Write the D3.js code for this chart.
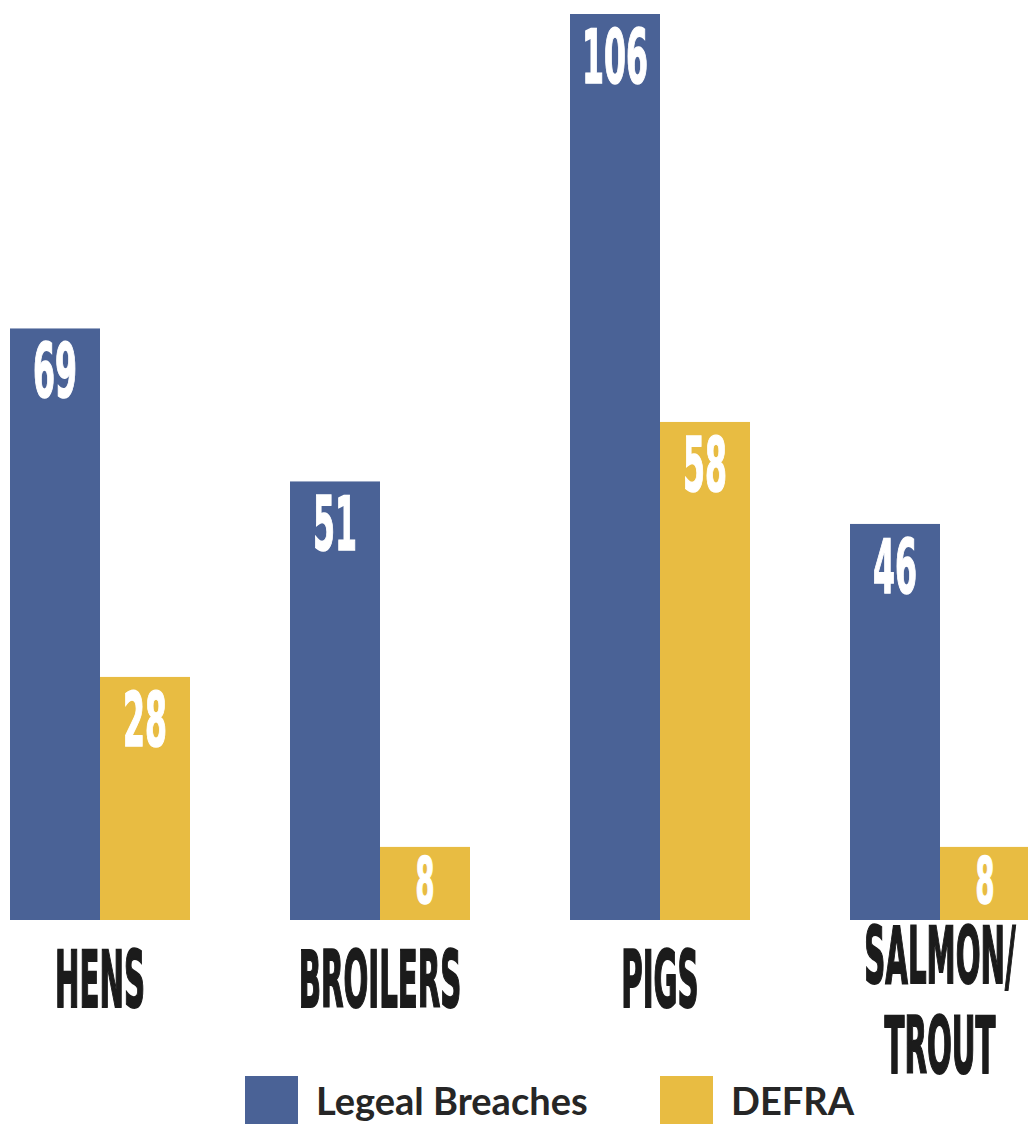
<!DOCTYPE html>
<html>
<head>
<meta charset="utf-8">
<script src="https://cdn.jsdelivr.net/npm/d3@7"></script>
<style>
  body { margin: 0; background: #fff; }
  svg { display: block; }
</style>
</head>
<body>
<script>
var w = 1028;
var h = 1124;

var categories = ["HENS", "BROILERS", "PIGS", "SALMON/TROUT"];
var series = ["Legeal Breaches", "DEFRA"];
var breaches = [69, 51, 106, 46];
var defra = [28, 8, 58, 8];
var colors = ["#4a6296", "#e8bc42"];

var condensed = "'Liberation Sans Narrow', 'DejaVu Sans Condensed', 'Liberation Sans', sans-serif";

var svg = d3.select("body").append("svg").attr("width", w).attr("height", h);

var x0 = d3.scaleBand().domain(categories).range([10, 1030]).paddingInner(100 / 280).paddingOuter(0);
var x1 = d3.scaleBand().domain(series).range([0, x0.bandwidth()]).padding(0);
var y = d3.scaleLinear().domain([-0.6, 106]).range([920, 14]);

var rows = [];
categories.forEach(function (c, i) {
  rows.push({ cat: c, s: series[0], v: breaches[i] });
  rows.push({ cat: c, s: series[1], v: defra[i] });
});

svg.selectAll("rect.bar")
  .data(rows)
  .enter()
  .append("rect")
  .attr("class", "bar")
  .attr("x", function (d) { return x0(d.cat) + x1(d.s); })
  .attr("y", function (d) { return y(d.v); })
  .attr("width", x1.bandwidth())
  .attr("height", function (d) { return 920 - y(d.v); })
  .attr("fill", function (d) { return colors[series.indexOf(d.s)]; });

// width of a sample string, used to squeeze the condensed labels
function measure(sample, size) {
  var t = svg.append("text").text(sample)
    .attr("font-family", condensed).attr("font-weight", 700)
    .attr("font-size", size);
  var wd = t.node().getComputedTextLength();
  t.remove();
  return wd;
}

// value labels
var valSize = 74;
var valSx = 44 / measure("00", valSize);

svg.selectAll("text.val")
  .data(rows)
  .enter()
  .append("text")
  .attr("class", "val")
  .text(function (d) { return d.v; })
  .attr("text-anchor", "middle")
  .attr("font-family", condensed)
  .attr("font-weight", 700)
  .attr("font-size", function (d) { return 920 - y(d.v) < 100 ? 64 : valSize; })
  .attr("fill", "#fff")
  .attr("stroke", "#fff")
  .attr("stroke-width", 1.5)
  .attr("transform", function (d) {
    var cx = x0(d.cat) + x1(d.s) + x1.bandwidth() / 2;
    var base = Math.min(y(d.v) + 69, 920 - 17);
    return "translate(" + cx + "," + base + ") scale(" + valSx + ",1)";
  });

// category labels
var catSize = 79;
var catSx = 90 / measure("HENS", catSize);

categories.forEach(function (c) {
  var lines = c.indexOf("/") > -1 ? [c.split("/")[0] + "/", c.split("/")[1]] : [c];
  var cx = x0(c) + x0.bandwidth() / 2;
  var first = lines.length > 1 ? 983 : 1007;
  lines.forEach(function (ln, j) {
    svg.append("text")
      .text(ln)
      .attr("text-anchor", "middle")
      .attr("font-family", condensed)
      .attr("font-weight", 700)
      .attr("font-size", catSize)
      .attr("fill", "#1b1b1b")
      .attr("stroke", "#1b1b1b")
      .attr("stroke-width", 2)
      .attr("transform", "translate(" + cx + "," + (first + j * 90) + ") scale(" + catSx + ",1)");
  });
});

// legend
var legX = [245, 660];
var legend = svg.selectAll("g.leg")
  .data(series)
  .enter()
  .append("g")
  .attr("class", "leg")
  .attr("transform", function (d, i) { return "translate(" + legX[i] + ",1076)"; });

legend.append("rect")
  .attr("width", 53)
  .attr("height", 60)
  .attr("fill", function (d, i) { return colors[i]; });

legend.append("text")
  .text(function (d) { return d; })
  .attr("x", 71)
  .attr("y", 39)
  .attr("font-family", "Lato, 'Open Sans', sans-serif")
  .attr("font-weight", 700)
  .attr("font-size", 38)
  .attr("fill", "#262626");
</script>
</body>
</html>
